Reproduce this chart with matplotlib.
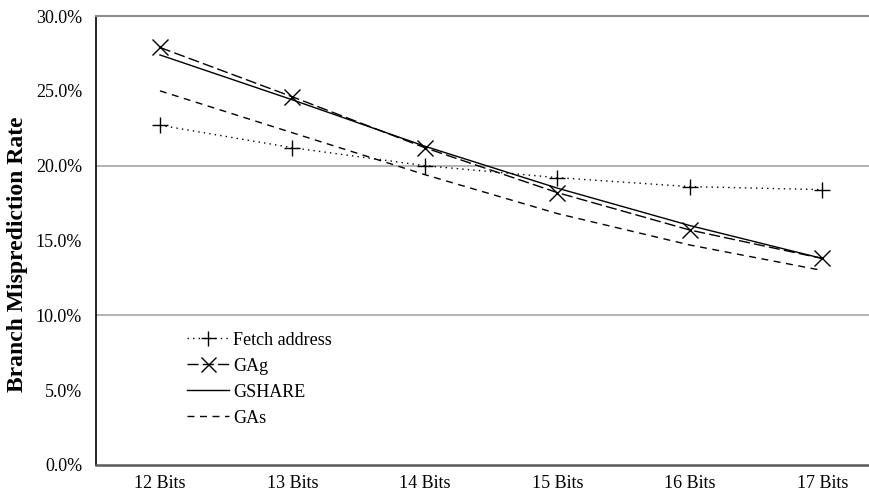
import matplotlib.pyplot as plt
import numpy as np

plt.rcParams['font.family'] = ['Liberation Serif', 'DejaVu Serif']

categories = ['12 Bits', '13 Bits', '14 Bits', '15 Bits', '16 Bits', '17 Bits']
fetch_address = [22.7, 21.2, 20.0, 19.2, 18.6, 18.4]
gag = [27.9, 24.6, 21.2, 18.2, 15.7, 13.8]
gshare = [27.4, 24.4, 21.3, 18.5, 16.0, 13.8]
gas = [25.0, 22.2, 19.4, 16.8, 14.7, 13.0]

x = np.arange(len(categories))

fig = plt.figure(figsize=(8.7, 4.93), dpi=100)
ax = fig.add_axes([0.1103, 0.0568, 0.8897, 0.9107])

ax.plot(x, fetch_address, color='black', lw=1.0, linestyle=(0, (1, 3)),
        marker='+', markersize=12, markeredgewidth=1.0, label='Fetch address')
ax.plot(x, gag, color='black', lw=1.0, linestyle=(0, (8, 3)),
        marker='x', markersize=12, markeredgewidth=1.0, label='GAg')
ax.plot(x, gshare, color='black', lw=1.0, linestyle='-', label='GSHARE')
ax.plot(x, gas, color='black', lw=1.0, linestyle=(0, (5, 4)), label='GAs')

ax.set_xlim(-0.483, 5.36)
ax.set_ylim(0, 30)
ax.set_yticks(np.arange(0, 30.1, 5))
ax.set_yticklabels(['%.1f%%' % v for v in np.arange(0, 30.1, 5)])
ax.set_xticks(x)
ax.set_xticklabels(categories)
ax.tick_params(length=0, labelsize=13, colors='black')
ax.tick_params(axis='x', pad=7)
ax.tick_params(axis='y', pad=10)

for v in (10, 20):
    ax.axhline(v, color='#a6a6a6', lw=1.2, zorder=0)

ax.spines['right'].set_visible(False)
ax.spines['top'].set_color('#8c8c8c')
ax.spines['top'].set_linewidth(1.5)
ax.spines['left'].set_color('black')
ax.spines['left'].set_linewidth(1.2)
ax.spines['bottom'].set_color('#595959')
ax.spines['bottom'].set_linewidth(1.8)

ax.set_ylabel('Branch Misprediction Rate', fontsize=17, fontweight='bold')
ax.yaxis.set_label_coords(-0.088, 0.47)

ax.legend(loc='upper left', bbox_to_anchor=(0.1176, 0.297), frameon=False,
          fontsize=13, handlelength=2.3, handletextpad=0.25, labelspacing=0.5,
          borderpad=0, borderaxespad=0, markerscale=0.9)

fig.savefig('out.png', dpi=100)
